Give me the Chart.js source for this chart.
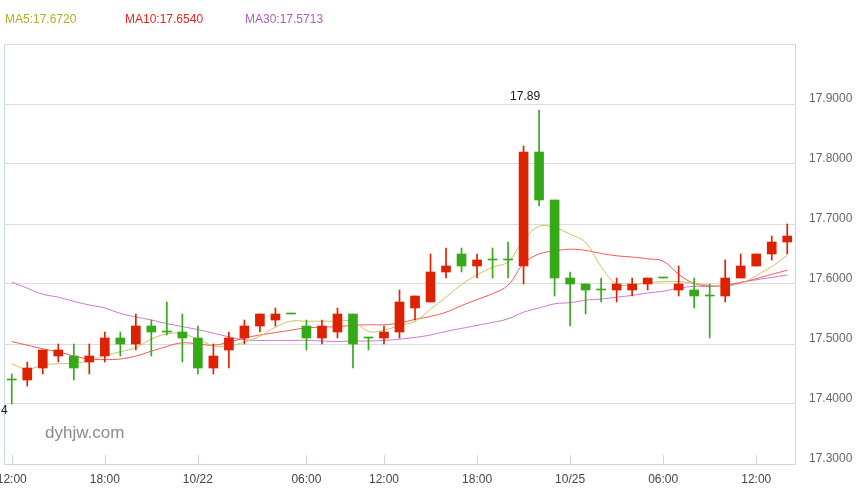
<!DOCTYPE html>
<html>
<head>
<meta charset="utf-8">
<title>K-line</title>
<script src="https://cdn.jsdelivr.net/npm/chart.js@4.4.1/dist/chart.umd.min.js"></script>
<style>
  body { margin: 0; background: #fff; }
  #wrap { position: relative; width: 860px; height: 494px; font-family: "Liberation Sans", Arial, sans-serif; }
  #kline { display: block; }
  .ma { position: absolute; top: 12px; font-size: 12px; line-height: 14px; white-space: nowrap; }
  #mark { position: absolute; left: 45px; top: 423px; font-size: 17px; line-height: 20px; color: #8c8c8c; }
</style>
</head>
<body>
<div id="wrap">
  <canvas id="kline" width="860" height="494"></canvas>
  <div id="legend"></div>
  <div id="mark">dyhjw.com</div>
</div>
<script>
// hourly candles
const opens  = [17.44, 17.44, 17.46, 17.48, 17.48, 17.47, 17.48, 17.51, 17.50, 17.53,
                17.52, 17.52, 17.51, 17.46, 17.49, 17.51, 17.53, 17.54, 17.55, 17.53,
                17.51, 17.52, 17.55, 17.51, 17.51, 17.52, 17.56, 17.57, 17.62, 17.65,
                17.63, 17.64, 17.64, 17.63, 17.82, 17.74, 17.61, 17.60, 17.59, 17.59,
                17.59, 17.60, 17.61, 17.59, 17.59, 17.58, 17.58, 17.61, 17.63, 17.65, 17.67];
const highs  = [17.45, 17.47, 17.49, 17.50, 17.50, 17.50, 17.52, 17.52, 17.55, 17.54,
                17.57, 17.55, 17.53, 17.50, 17.52, 17.54, 17.55, 17.56, 17.55, 17.54,
                17.54, 17.56, 17.55, 17.51, 17.53, 17.59, 17.58, 17.65, 17.66, 17.66,
                17.65, 17.66, 17.67, 17.83, 17.89, 17.74, 17.62, 17.60, 17.61, 17.61,
                17.61, 17.61, 17.61, 17.63, 17.61, 17.60, 17.64, 17.65, 17.65, 17.68, 17.70];
const lows   = [17.40, 17.43, 17.45, 17.47, 17.44, 17.45, 17.47, 17.48, 17.49, 17.48,
                17.515, 17.47, 17.45, 17.45, 17.46, 17.50, 17.52, 17.53, 17.55, 17.49,
                17.50, 17.51, 17.46, 17.49, 17.50, 17.51, 17.54, 17.57, 17.61, 17.62,
                17.61, 17.61, 17.61, 17.60, 17.73, 17.58, 17.53, 17.55, 17.57, 17.57,
                17.58, 17.59, 17.61, 17.58, 17.56, 17.51, 17.57, 17.61, 17.63, 17.64, 17.65];
const closes = [17.44, 17.46, 17.49, 17.49, 17.46, 17.48, 17.51, 17.50, 17.53, 17.52,
                17.52, 17.51, 17.46, 17.48, 17.51, 17.53, 17.55, 17.55, 17.55, 17.51,
                17.53, 17.55, 17.50, 17.51, 17.52, 17.57, 17.58, 17.62, 17.63, 17.63,
                17.64, 17.64, 17.64, 17.82, 17.74, 17.61, 17.60, 17.59, 17.59, 17.60,
                17.60, 17.61, 17.61, 17.60, 17.58, 17.58, 17.61, 17.63, 17.65, 17.67, 17.68];

// moving averages as drawn
const ma5  = [17.467, 17.458, 17.465, 17.467, 17.468, 17.472, 17.481, 17.487, 17.494, 17.508,
              17.517, 17.517, 17.508, 17.497, 17.497, 17.503, 17.513, 17.528, 17.538, 17.538,
              17.538, 17.538, 17.538, 17.521, 17.523, 17.531, 17.538, 17.558, 17.578, 17.599,
              17.615, 17.628, 17.637, 17.673, 17.696, 17.694, 17.683, 17.669, 17.629, 17.600,
              17.599, 17.602, 17.604, 17.604, 17.601, 17.598, 17.597, 17.601, 17.614, 17.629, 17.648];
const ma10 = [17.504, 17.498, 17.492, 17.487, 17.480, 17.475, 17.474, 17.475, 17.480, 17.488,
              17.496, 17.502, 17.500, 17.498, 17.503, 17.510, 17.515, 17.519, 17.523, 17.527,
              17.528, 17.529, 17.531, 17.532, 17.532, 17.535, 17.541, 17.546, 17.553, 17.564,
              17.574, 17.584, 17.598, 17.634, 17.650, 17.655, 17.658, 17.656, 17.651, 17.647,
              17.645, 17.642, 17.638, 17.616, 17.601, 17.597, 17.598, 17.602, 17.609, 17.616, 17.623];
const ma30 = [17.603, 17.593, 17.583, 17.578, 17.571, 17.565, 17.560, 17.551, 17.545, 17.540,
              17.534, 17.529, 17.524, 17.518, 17.512, 17.507, 17.506, 17.506, 17.506, 17.506,
              17.505, 17.504, 17.505, 17.505, 17.506, 17.508, 17.511, 17.515, 17.521, 17.526,
              17.531, 17.536, 17.542, 17.553, 17.560, 17.567, 17.569, 17.573, 17.575, 17.578,
              17.581, 17.585, 17.588, 17.593, 17.596, 17.596, 17.598, 17.603, 17.607, 17.611, 17.615];

const tickIdx  = [0, 6, 12, 19, 24, 30, 36, 42, 48];
const tickText = ['12:00', '18:00', '10/22', '06:00', '12:00', '18:00', '10/25', '06:00', '12:00'];

const maNames  = ['MA5', 'MA10', 'MA30'];
const maValues = ['17.6720', '17.6540', '17.5713'];
const maText   = ['#b3ae1e', '#f02222', '#b060bc'];
const maLine   = ['#c9c45a', '#fa5555', '#cc78cf'];
const maLeft   = [5, 125, 245];

const UP = '#de2100', DOWN = '#35a918', AXIS = '#c6d7e7';

const legend = document.getElementById('legend');
maNames.forEach((n, i) => {
  const s = document.createElement('span');
  s.className = 'ma';
  s.style.left = maLeft[i] + 'px';
  s.style.color = maText[i];
  s.textContent = n + ':' + maValues[i];
  legend.appendChild(s);
});

const labels = opens.map((_, i) => i);
const colors = opens.map((o, i) => closes[i] > o ? UP : DOWN);

// axis frame, inner tick marks, high/low notes
const extras = {
  id: 'extras',
  afterDraw(chart) {
    const { ctx, chartArea: a, scales: { x, y } } = chart;
    ctx.save();
    ctx.strokeStyle = AXIS;
    ctx.lineWidth = 1;
    ctx.beginPath();
    ctx.moveTo(a.left + 0.5, a.top);
    ctx.lineTo(a.left + 0.5, a.bottom);
    tickIdx.forEach(i => {
      const px = Math.round(x.getPixelForValue(i)) + 0.5;
      ctx.moveTo(px, a.bottom - 9);
      ctx.lineTo(px, a.bottom);
    });
    ctx.stroke();

    ctx.fillStyle = '#1a1a1a';
    ctx.font = '12px "Liberation Sans", Arial, sans-serif';
    ctx.textAlign = 'right';
    ctx.textBaseline = 'middle';
    const hi = highs.indexOf(Math.max(...highs));
    ctx.fillText(String(highs[hi]), x.getPixelForValue(hi) + 1, y.getPixelForValue(highs[hi]) - 13);
    const lo = lows.indexOf(Math.min(...lows));
    ctx.fillText(String(lows[lo]), x.getPixelForValue(lo) - 4, y.getPixelForValue(lows[lo]) + 7);
    ctx.restore();
  }
};

Chart.defaults.font.family = '"Liberation Sans", Arial, sans-serif';
Chart.defaults.font.size = 12;

new Chart(document.getElementById('kline'), {
  type: 'bar',
  data: {
    labels,
    datasets: [
      {
        label: 'body',
        data: opens.map((o, i) => [o, closes[i]]),
        backgroundColor: colors,
        barThickness: 9,
        minBarLength: 1,
        grouped: false,
        order: 0
      },
      {
        label: 'wick',
        data: lows.map((l, i) => [l, highs[i]]),
        backgroundColor: colors,
        barThickness: 1,
        grouped: false,
        order: 1
      },
      ...[ma5, ma10, ma30].map((d, i) => ({
        type: 'line',
        label: maNames[i],
        data: d,
        borderColor: maLine[i],
        borderWidth: 1,
        pointRadius: 0,
        tension: 0.4,
        fill: false,
        order: 2
      }))
    ]
  },
  options: {
    responsive: false,
    animation: false,
    events: [],
    layout: { padding: { top: 44, left: 4, right: 0, bottom: 0 } },
    plugins: { legend: { display: false }, tooltip: { enabled: false } },
    scales: {
      x: {
        type: 'category',
        offset: true,
        grid: { display: false, drawTicks: false },
        border: { color: AXIS },
        afterFit: s => { s.height = 30; s.paddingLeft = 0; s.paddingRight = 0; },
        ticks: {
          autoSkip: false,
          maxRotation: 0,
          minRotation: 0,
          padding: 8,
          color: '#444',
          callback: (v, i) => {
            const k = tickIdx.indexOf(i);
            return k < 0 ? '' : tickText[k];
          }
        }
      },
      y: {
        position: 'right',
        min: 17.3,
        max: 18.0,
        grid: { color: '#dcdcdc', drawTicks: false },
        border: { color: AXIS },
        afterFit: s => { s.width = 65; s.paddingTop = 0; s.paddingBottom = 0; },
        ticks: {
          stepSize: 0.1,
          padding: 14,
          labelOffset: -5,
          color: '#666',
          callback: v => v > 17.95 ? '' : v.toFixed(4)
        }
      }
    }
  },
  plugins: [extras]
});
</script>
</body>
</html>
